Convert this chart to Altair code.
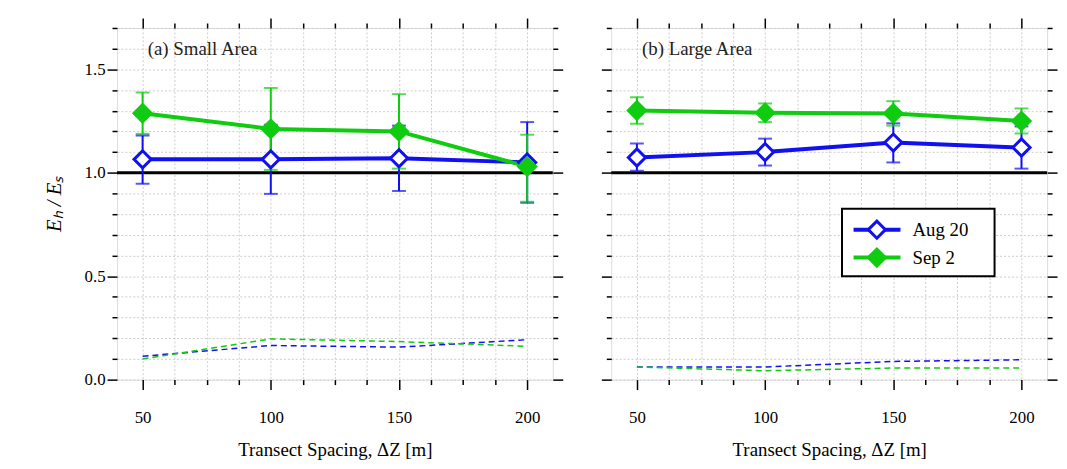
import altair as alt
import pandas as pd

spacing = [50, 100, 150, 200]
series_names = ['Aug 20', 'Sep 2']

# (a) small area
a_aug = [1.065, 1.065, 1.07, 1.05]
a_aug_lo = [0.947, 0.898, 0.912, 0.855]
a_aug_hi = [1.18, 1.232, 1.228, 1.245]
a_sep = [1.288, 1.212, 1.20, 1.03]
a_sep_lo = [1.188, 1.014, 1.02, 0.86]
a_sep_hi = [1.388, 1.41, 1.38, 1.184]
a_aug_dash = [0.113, 0.165, 0.157, 0.193]
a_sep_dash = [0.10, 0.197, 0.184, 0.161]

# (b) large area
b_aug = [1.074, 1.10, 1.146, 1.122]
b_aug_lo = [1.01, 1.035, 1.05, 1.02]
b_aug_hi = [1.141, 1.165, 1.239, 1.224]
b_sep = [1.301, 1.29, 1.287, 1.25]
b_sep_lo = [1.237, 1.245, 1.228, 1.19]
b_sep_hi = [1.365, 1.335, 1.346, 1.311]
b_aug_dash = [0.061, 0.061, 0.088, 0.096]
b_sep_dash = [0.061, 0.043, 0.056, 0.056]

FONT = 'Liberation Serif'
BLUE = '#1010f0'
GREEN = '#10cc10'
XDOM = [40, 210]
YDOM = [0, 1.7]
W, H = 440, 355

XTICKS = [50 + 12.5 * i for i in range(13)]
YTICKS = [round(0.1 * i, 1) for i in range(18)]
X_MAJOR = 'datum.value % 50 == 0'
Y_MAJOR = '(abs(datum.value) < 0.01 || abs(datum.value - 0.5) < 0.01 || abs(datum.value - 1) < 0.01 || abs(datum.value - 1.5) < 0.01)'


def make_df(aug, aug_lo, aug_hi, aug_d, sep, sep_lo, sep_hi, sep_d):
    rows = []
    for name, v, lo, hi, d in [('Aug 20', aug, aug_lo, aug_hi, aug_d),
                               ('Sep 2', sep, sep_lo, sep_hi, sep_d)]:
        for i, x in enumerate(spacing):
            rows.append({'series': name, 'x': x, 'y': v[i], 'lo': lo[i], 'hi': hi[i], 'd': d[i]})
    return pd.DataFrame(rows)


def panel(df, label, show_y, legend):
    xtick = {'condition': {'test': X_MAJOR, 'value': 10}, 'value': 5}
    ytick = {'condition': {'test': Y_MAJOR, 'value': 10}, 'value': 5}
    xaxis = alt.Axis(values=XTICKS, labelExpr=f"{X_MAJOR} ? '' + datum.value : ''", labelOverlap=False,
                     tickSize=xtick, gridDash=[2, 2], gridColor='#cccccc', grid=True,
                     title='Transect Spacing, ΔZ [m]', labelFontSize=17, titleFontSize=19,
                     labelFont=FONT, titleFont=FONT, titleFontWeight='normal', domain=False,
                     tickColor='black', labelColor='black', tickWidth=1.5, labelPadding=20, titlePadding=16)
    yaxis = alt.Axis(values=YTICKS, labelOverlap=False,
                     labelExpr=f"{Y_MAJOR} ? format(datum.value, '.1f') : ''",
                     tickSize=ytick, gridDash=[2, 2], gridColor='#cccccc', grid=True,
                     title='Eₕ / Eₛ' if show_y else None, labels=show_y,
                     labelFontSize=17, titleFontSize=21, labelFont=FONT, titleFont=FONT,
                     titleFontWeight='normal', titleFontStyle='italic', domain=False,
                     tickColor='black', labelColor='black', tickWidth=1.5, titlePadding=20)
    xs = alt.Scale(domain=XDOM, nice=False, zero=False)
    ys = alt.Scale(domain=YDOM, nice=False)

    def X(f):
        return alt.X(f, scale=xs, axis=xaxis)

    def Y(f):
        return alt.Y(f, scale=ys, axis=yaxis)

    base = alt.Chart(df)
    col = alt.Color('series:N', scale=alt.Scale(domain=series_names, range=[BLUE, GREEN]), legend=None)
    fill = alt.Fill('series:N', scale=alt.Scale(domain=series_names, range=['white', GREEN]), legend=None)

    dash = base.mark_line(strokeDash=[6, 4], strokeWidth=1.5).encode(x=X('x:Q'), y=Y('d:Q'), color=col)
    one = alt.Chart(pd.DataFrame({'v': [1.0]})).mark_rule(color='black', strokeWidth=3).encode(y=Y('v:Q'))
    err = base.mark_rule(strokeWidth=2).encode(x=X('x:Q'), y=Y('lo:Q'), y2='hi:Q', color=col)
    cap_lo = base.mark_tick(orient='horizontal', size=14, thickness=2).encode(x=X('x:Q'), y=Y('lo:Q'), color=col)
    cap_hi = base.mark_tick(orient='horizontal', size=14, thickness=2).encode(x=X('x:Q'), y=Y('hi:Q'), color=col)
    line = base.mark_line(strokeWidth=4).encode(x=X('x:Q'), y=Y('y:Q'), color=col)
    pts = base.mark_point(shape='diamond', size=300, strokeWidth=3, opacity=1).encode(
        x=X('x:Q'), y=Y('y:Q'), color=col, fill=fill)
    txt = alt.Chart(pd.DataFrame({'x': [52], 'y': [1.6], 't': [label]})).mark_text(
        align='left', font=FONT, fontSize=19, color='#222222').encode(x=X('x:Q'), y=Y('y:Q'), text='t:N')
    layers = [dash, one, err, cap_lo, cap_hi, line, pts, txt]

    if legend:
        box = alt.Chart(pd.DataFrame({'x': [130], 'x2': [189.5], 'y': [0.50], 'y2': [0.826]})).mark_rect(
            fill='white', stroke='black', strokeWidth=2).encode(x=X('x:Q'), x2='x2:Q', y=Y('y:Q'), y2='y2:Q')
        leg = pd.DataFrame({'series': series_names, 'x1': [134.5, 134.5], 'x2': [152.8, 152.8],
                            'xm': [143.6, 143.6], 'xt': [157.5, 157.5], 'y': [0.725, 0.59]})
        lb = alt.Chart(leg)
        leg_line = lb.mark_rule(strokeWidth=4).encode(x=X('x1:Q'), x2='x2:Q', y=Y('y:Q'), color=col)
        leg_pt = lb.mark_point(shape='diamond', size=300, strokeWidth=3, opacity=1).encode(
            x=X('xm:Q'), y=Y('y:Q'), color=col, fill=fill)
        leg_txt = lb.mark_text(align='left', font=FONT, fontSize=19, color='black').encode(
            x=X('xt:Q'), y=Y('y:Q'), text='series:N')
        layers += [box, leg_line, leg_pt, leg_txt]

    main = alt.layer(*layers)
    mirror = alt.Chart(pd.DataFrame({'x': [45], 'y': [0.5]})).mark_point(opacity=0).encode(
        x=alt.X('x:Q', scale=xs, axis=alt.Axis(orient='top', values=XTICKS, labels=False,
                                             title=None, domain=False, grid=False, tickColor='black', tickWidth=1.5,
                                             tickSize=xtick)),
        y=alt.Y('y:Q', scale=ys, axis=alt.Axis(orient='right', values=YTICKS, labels=False,
                                             title=None, domain=False, grid=False, tickColor='black', tickWidth=1.5,
                                             tickSize=ytick)))
    return alt.layer(main, mirror).resolve_scale(x='independent', y='independent').properties(width=W, height=H)


dfa = make_df(a_aug, a_aug_lo, a_aug_hi, a_aug_dash, a_sep, a_sep_lo, a_sep_hi, a_sep_dash)
dfb = make_df(b_aug, b_aug_lo, b_aug_hi, b_aug_dash, b_sep, b_sep_lo, b_sep_hi, b_sep_dash)

chart = alt.hconcat(panel(dfa, '(a) Small Area', True, False),
                    panel(dfb, '(b) Large Area', False, True), spacing=35).configure_view(
    stroke='black', strokeWidth=2).configure_axis(labelOverlap=False).configure(background='white').properties(
    padding={'left': 35, 'top': 6, 'right': 0, 'bottom': 0})

chart.save("out.html", embed_options={"renderer": "svg", "actions": False})
